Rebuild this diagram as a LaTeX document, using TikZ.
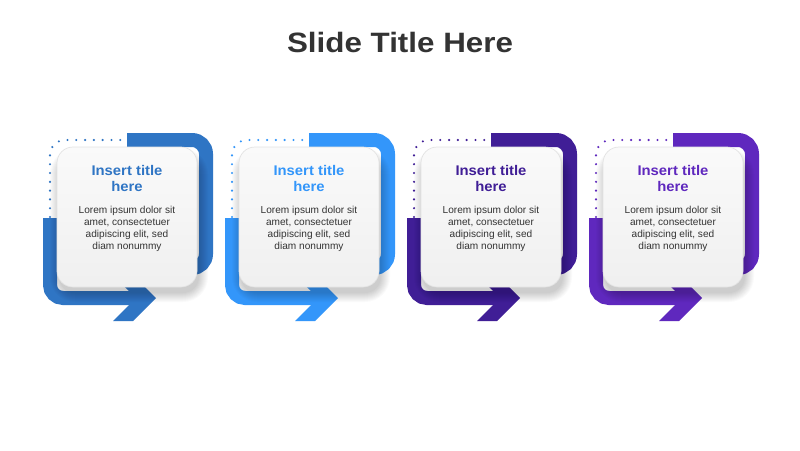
\documentclass[tikz,border=0pt]{standalone}
\usepackage{fontspec}
\setmainfont{Liberation Sans}
\newfontfamily\slidefont[FakeStretch=1.12]{Liberation Sans}
\newfontfamily\cardfont[FakeStretch=1.06]{Liberation Sans}
\definecolor{cA}{RGB}{47,117,196}
\definecolor{cB}{RGB}{51,150,250}
\definecolor{cC}{RGB}{64,30,150}
\definecolor{cD}{RGB}{95,40,190}
\definecolor{txt}{RGB}{51,51,51}
\tikzset{
  band/.style={line width=14pt},
  dots/.style={line width=2.4pt, line cap=round, dash pattern=on 0pt off 8.8pt},
  cardbox/.style={minimum width=140pt, minimum height=140pt, inner sep=0pt,
    rounded corners=16pt, top color=white!98!black, bottom color=white!94!black,
    draw=white!89!black, line width=0.7pt},
  cardtitle/.style={font=\cardfont\bfseries\fontsize{14}{16}\selectfont, align=center},
  cardbody/.style={font=\fontsize{10.1}{12}\selectfont, text=txt, align=center},
}
\begin{document}
\begin{tikzpicture}[x=1pt,y=-1pt]
\useasboundingbox[fill=white] (0,0) rectangle (800,450);
\node[font=\slidefont\bfseries\fontsize{28}{32}\selectfont, text=txt] (title) at (400,42) {Slide Title Here};
\foreach \i/\col in {0/cA,1/cB,2/cC,3/cD}{
\begin{scope}[xshift=\i*182pt]
  \draw[dots,\col,rounded corners=15pt] (50,217) -- (50,140) -- (124,140);
  \draw[band,\col,rounded corners=14pt] (127,140) -- (206,140) -- (206,268) -- (185,268);
  \draw[band,\col,rounded corners=13pt] (50,218) -- (50,298) -- (140,298);
  \fill[\col] (113,275) -- (133,275) -- (156,298) -- (133,321) -- (113,321) -- (136,298) -- cycle;
  \foreach \k in {0,...,9}{
    \pgfmathsetmacro\rr{16+\k}
    \fill[black,opacity=0.018,rounded corners=\rr pt] (59-\k,158-\k) rectangle (199+\k,293+\k);
  }
  \node[cardbox] (card\i) at (127,217) {};
  \node[cardtitle,text=\col] (head\i) at (127,178) {Insert title\\here};
  \node[cardbody] (body\i) at (127,229) {Lorem ipsum dolor sit\\amet, consectetuer\\adipiscing elit, sed\\diam nonummy};
\end{scope}
}
\end{tikzpicture}
\end{document}
